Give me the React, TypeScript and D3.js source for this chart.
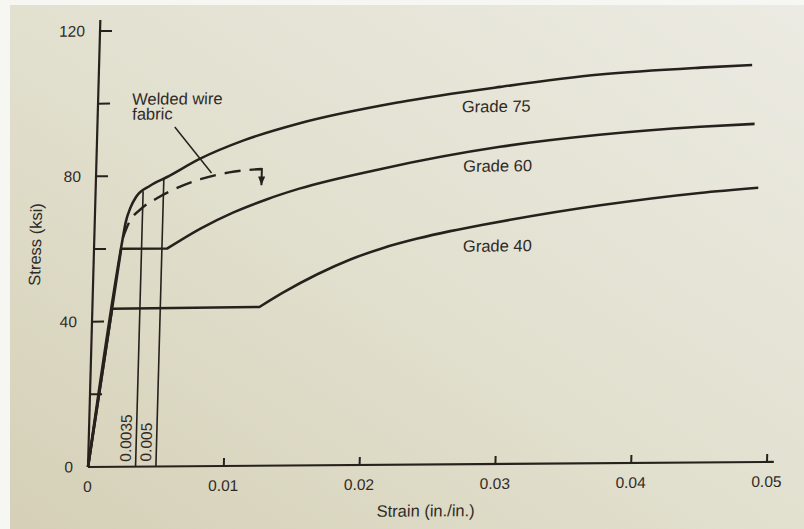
import React from 'react';
import * as d3 from 'd3';

const W = 804;
const H = 529;

// Stress–strain curves for reinforcing steel: strain in in./in., stress in ksi.
// Grades 40 and 60 are split into their linear part (elastic rise + yield
// plateau) and their strain-hardening branch; Grade 75 has a rounded knee.
const grade40Linear: [number, number][] = [[0, 0], [0.00145, 43.5], [0.0123, 43.7]];
const grade40Hardening: [number, number][] = [
  [0.0123, 43.7], [0.014, 47.6], [0.0165, 52.6], [0.0189, 56.6], [0.0213, 59.7],
  [0.0238, 62.2], [0.0262, 64.2], [0.0286, 65.9], [0.0306, 67.2], [0.0372, 71],
  [0.0445, 74.2], [0.0488, 75.5],
];

const grade60Linear: [number, number][] = [[0, 0], [0.002, 60], [0.0054, 60]];
const grade60Hardening: [number, number][] = [
  [0.0054, 60], [0.0078, 65.4], [0.0102, 69.8], [0.0126, 73.3], [0.015, 76.2],
  [0.0209, 81.4], [0.0297, 87.3], [0.037, 90.4], [0.0444, 92.4], [0.0484, 93.1],
];

const grade75: [number, number][] = [
  [0, 0], [0.0021, 63], [0.00228, 67.3], [0.0026, 71.3], [0.003, 74.3], [0.004, 77.3],
  [0.0052, 79.6], [0.0076, 84.6], [0.0108, 89.6], [0.0149, 94.2], [0.0222, 99.8],
  [0.0296, 103.8], [0.0369, 107], [0.0443, 108.7], [0.0481, 109.3],
];

// Welded wire fabric (dashed), ending in a drop at fracture
const weldedWire: [number, number][] = [
  [0.0021, 63], [0.0025, 67], [0.0034, 71], [0.0045, 73.8], [0.0058, 76.3],
  [0.0077, 79], [0.0098, 80.8], [0.0122, 81.7],
];
const weldedWireDrop: [number, number][] = [[0.0119, 81.65], [0.0122, 81.7], [0.0122, 77.2]];

// Marked strain limits
const strainLimits = [0.0035, 0.005];
const strainLimitLabels = ['0.0035', '0.005'];

// Axis ticks
const strainTicks = [0.01, 0.02, 0.03, 0.04, 0.05];
const strainTickLabelValues = [0, 0.01, 0.02, 0.03, 0.04, 0.05];
const strainTickLabels = ['0', '0.01', '0.02', '0.03', '0.04', '0.05'];
const stressTicks = [20, 40, 60, 80, 100, 120];
const stressTickLabelValues = [0, 40, 80, 120];
const stressTickLabels = ['0', '40', '80', '120'];

const gradeNames = ['Grade 75', 'Grade 60', 'Grade 40'];

const x = d3.scaleLinear().domain([0, 0.05]).range([88, 767]);
const y = d3.scaleLinear().domain([0, 120]).range([467, 31]);

const linear = d3.line<[number, number]>().x((d) => x(d[0])).y((d) => y(d[1]));
const smooth = d3
  .line<[number, number]>()
  .curve(d3.curveMonotoneX)
  .x((d) => x(d[0]))
  .y((d) => y(d[1]));

function gradePath(lin: [number, number][], hard: [number, number][]) {
  return (linear(lin) || '') + (smooth(hard) || '').replace(/^M/, 'L');
}

// stress on a curve at a given strain (linear between stored points)
function stressAt(series: [number, number][], s: number) {
  const i = d3.bisector((d: [number, number]) => d[0]).right(series, s);
  const a = series[Math.max(0, i - 1)];
  const b = series[Math.min(series.length - 1, i)];
  if (a[0] === b[0]) return a[1];
  return a[1] + ((b[1] - a[1]) * (s - a[0])) / (b[0] - a[0]);
}

const INK = '#26211d';
const TEXT = '#2f2a26';
const FONT = "'Liberation Sans', Arial, Helvetica, sans-serif";

export default function App() {
  const x0 = x(0);
  const y0 = y(0);
  return (
    <svg
      width={W}
      height={H}
      viewBox={`0 0 ${W} ${H}`}
      style={{ position: 'absolute', left: 0, top: 0, display: 'block' }}
      fontFamily={FONT}
    >
      <defs>
        <linearGradient id="paper" x1="0" y1="1" x2="1" y2="0">
          <stop offset="0%" stopColor="#d5d0b7" />
          <stop offset="45%" stopColor="#e1dfcd" />
          <stop offset="100%" stopColor="#ecebe3" />
        </linearGradient>
        <marker
          id="arrowhead"
          viewBox="0 0 10 8"
          refX="10"
          refY="4"
          markerWidth="9"
          markerHeight="7"
          markerUnits="userSpaceOnUse"
          orient="auto"
        >
          <path d="M0,0 L10,4 L0,8 z" fill={INK} />
        </marker>
      </defs>

      <rect x={0} y={0} width={W} height={H} fill="#f6f6f3" />
      <rect x={10} y={5} width={W - 10} height={H - 5} fill="url(#paper)" />

      {/* the printed page sits slightly skewed */}
      <g transform="matrix(1,-0.0074,-0.0276,1,12.89,0.65)">
        {/* axes */}
        <line x1={x0} y1={y0} x2={x0} y2={y(123)} stroke={INK} strokeWidth={2.2} />
        <line x1={x0} y1={y0} x2={x(0.0505)} y2={y0} stroke={INK} strokeWidth={2.2} />

        {stressTicks.map((t) => (
          <line key={`yt${t}`} x1={x0} x2={x0 + 12} y1={y(t)} y2={y(t)} stroke={INK} strokeWidth={2} />
        ))}
        {stressTickLabelValues.map((t, i) => (
          <text
            key={`yl${t}`}
            x={73}
            y={y(t)}
            dy="0.35em"
            textAnchor="end"
            fontSize={15.5}
            fill={TEXT}
          >
            {stressTickLabels[i]}
          </text>
        ))}

        {strainTicks.map((t) => (
          <line key={`xt${t}`} x1={x(t)} x2={x(t)} y1={y0} y2={y0 - 8} stroke={INK} strokeWidth={2} />
        ))}
        {strainTickLabelValues.map((t, i) => (
          <text key={`xl${t}`} x={x(t)} y={y0 + 25} textAnchor="middle" fontSize={15.5} fill={TEXT}>
            {strainTickLabels[i]}
          </text>
        ))}

        <text x={427} y={519} textAnchor="middle" fontSize={16.5} fill={TEXT}>
          Strain (in./in.)
        </text>
        <text
          transform="translate(35,244) rotate(-90)"
          textAnchor="middle"
          fontSize={16.5}
          fill={TEXT}
        >
          Stress (ksi)
        </text>

        {/* strain limit markers */}
        {strainLimits.map((s, i) => (
          <g key={`lim${s}`}>
            <line
              x1={x(s)}
              x2={x(s)}
              y1={y0}
              y2={y(stressAt(grade75, s))}
              stroke={INK}
              strokeWidth={1.6}
            />
            <text
              transform={`translate(${x(s) - 5},${y0 - 5}) rotate(-90)`}
              textAnchor="start"
              fontSize={15.5}
              fill={TEXT}
            >
              {strainLimitLabels[i]}
            </text>
          </g>
        ))}

        {/* grade curves */}
        <path d={gradePath(grade40Linear, grade40Hardening)} fill="none" stroke={INK} strokeWidth={2.6} strokeLinejoin="round" />
        <path d={gradePath(grade60Linear, grade60Hardening)} fill="none" stroke={INK} strokeWidth={2.6} strokeLinejoin="round" />
        <path d={smooth(grade75) || ''} fill="none" stroke={INK} strokeWidth={2.6} strokeLinejoin="round" />

        {/* welded wire fabric */}
        <path d={smooth(weldedWire) || ''} fill="none" stroke={INK} strokeWidth={2.4} strokeDasharray="16 9" />
        <path
          d={linear(weldedWireDrop) || ''}
          fill="none"
          stroke={INK}
          strokeWidth={2}
          markerEnd="url(#arrowhead)"
        />
        <line x1={x(0.0057)} y1={y(93.4)} x2={x(0.0085)} y2={y(80.7)} stroke={INK} strokeWidth={1.5} />
        <text x={122} y={105} fontSize={16.5} fill={TEXT}>
          Welded wire
        </text>
        <text x={122.5} y={120} fontSize={16.5} fill={TEXT}>
          fabric
        </text>

        {/* grade labels */}
        <text x={452} y={115} fontSize={16.5} fill={TEXT}>
          {gradeNames[0]}
        </text>
        <text x={455} y={174.5} fontSize={16.5} fill={TEXT}>
          {gradeNames[1]}
        </text>
        <text x={457} y={254.5} fontSize={16.5} fill={TEXT}>
          {gradeNames[2]}
        </text>
      </g>
    </svg>
  );
}
